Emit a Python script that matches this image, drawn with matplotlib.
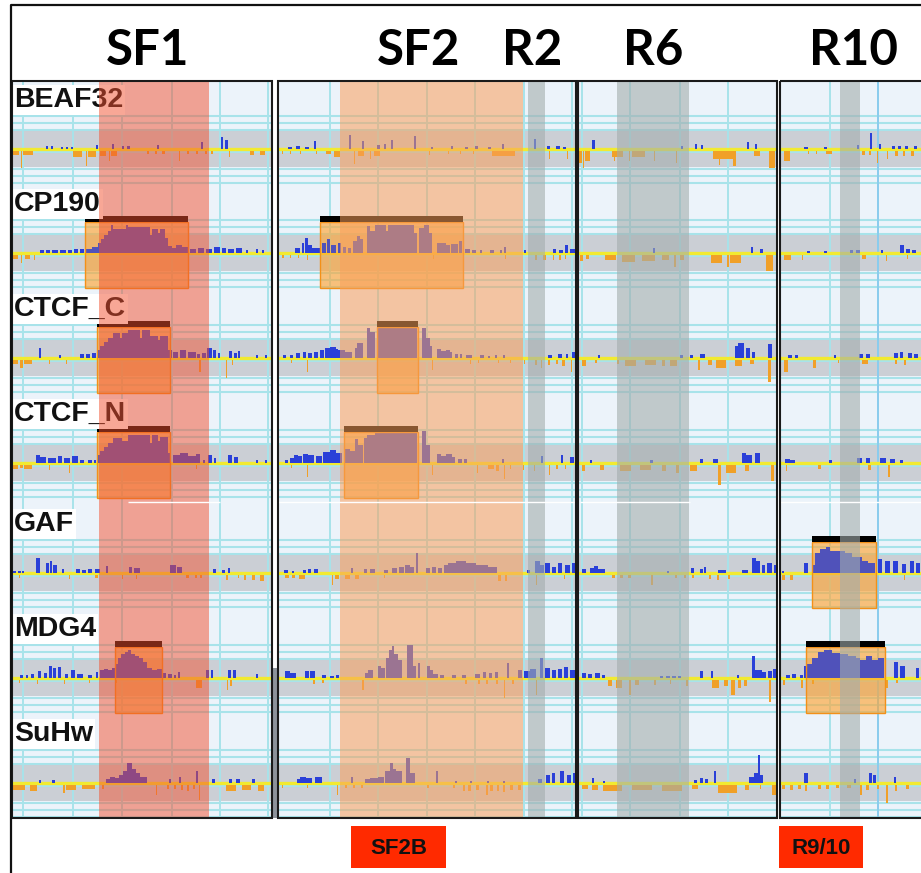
import matplotlib

matplotlib.use("Agg")
import matplotlib.pyplot as plt
from matplotlib.patches import Rectangle

# ---- layout of the browser snapshot (x = genomic position in screen units) ----
TRACKS = ["BEAF32", "CP190", "CTCF_C", "CTCF_N", "GAF", "MDG4", "SuHw"]
BASELINES = [149, 253, 358, 463, 573, 678, 783]
PANELS = [(12, 272), (278, 576), (578, 777), (780, 930)]
PANEL_TOP, PANEL_BOTTOM = 81, 818
VGRID = [23, 73, 122, 172, 220, 268, 330, 378, 427, 475, 524, 572,
         582, 630, 680, 728, 830, 878]

TITLES = ["SF1", "SF2", "R2", "R6", "R10"]
TITLE_X = [148, 419, 532, 653, 853]

# highlighted regions: (x0, x1, kind)
REGIONS = [(99, 209, "SF"), (340, 523, "SF2"), (528, 545, "R"),
           (617, 689, "R"), (840, 860, "R")]

# called peaks: (track, x0, x1)
PEAK_BOXES = [("CP190", 85, 188), ("CP190", 320, 463),
              ("CTCF_C", 97, 170), ("CTCF_C", 377, 418),
              ("CTCF_N", 97, 170), ("CTCF_N", 344, 418),
              ("GAF", 812, 876), ("MDG4", 115, 162), ("MDG4", 806, 885)]

BOTTOM_TAGS = ["SF2B", "R9/10"]
BOTTOM_TAG_X = [(351, 446), (779, 863)]

# ---- signal: (x0, x1, height) blocks, above (UP) and below (DN) the baseline ----
BEAF32_UP = [
    (46, 48, 3), (51, 53, 3), (61, 63, 2), (66, 68, 2), (71, 73, 2), (96, 98, 4), (112, 114, 5),
    (122, 124, 3), (127, 130, 3), (157, 159, 4), (201, 203, 7), (221, 223, 12), (225, 228, 9),
    (288, 292, 2), (296, 300, 3), (305, 309, 2), (314, 316, 8), (349, 351, 14), (362, 364, 8),
    (377, 380, 4), (384, 386, 5), (391, 393, 9), (414, 416, 13), (431, 433, 2), (451, 453, 3),
    (465, 468, 2), (475, 478, 3), (488, 491, 2), (502, 504, 5), (534, 536, 10), (547, 550, 3),
    (556, 560, 3), (563, 566, 2),
    (592, 595, 9), (681, 683, 3), (695, 697, 5), (701, 703, 4), (747, 749, 7), (755, 757, 5),
    (804, 808, 2), (824, 827, 2), (857, 859, 4), (870, 872, 16), (879, 881, 5), (892, 895, 3),
    (898, 901, 3), (905, 908, 3), (914, 917, 3)]
BEAF32_DN = [
    (13, 21, 4), (21, 23, 17), (23, 37, 4), (73, 86, 6), (86, 88, 15), (88, 100, 6), (100, 109, 5),
    (109, 111, 10), (111, 120, 5), (147, 150, 3), (155, 158, 3), (162, 166, 3), (179, 181, 10),
    (187, 190, 3), (196, 199, 3), (205, 208, 3), (211, 214, 3), (229, 231, 6), (250, 256, 4),
    (260, 267, 4),
    (282, 284, 3), (290, 292, 3), (300, 302, 3), (316, 318, 3), (326, 333, 3), (334, 342, 6),
    (354, 356, 13), (358, 366, 5), (370, 372, 8), (374, 382, 5), (429, 431, 4), (448, 450, 3),
    (460, 462, 3), (473, 475, 3), (492, 525, 5), (549, 551, 8), (567, 569, 8),
    (579, 583, 12), (583, 585, 17), (585, 592, 10), (612, 627, 6), (614, 616, 10), (629, 631, 10),
    (632, 650, 6), (654, 656, 10), (676, 678, 12), (713, 745, 8), (719, 721, 14), (733, 737, 15),
    (754, 762, 5), (769, 777, 17),
    (784, 792, 10), (808, 810, 3), (816, 818, 3), (826, 834, 3), (862, 866, 4), (869, 872, 4),
    (877, 879, 12), (887, 889, 8), (895, 899, 5), (903, 906, 5), (911, 915, 5)]

CP190_UP = [
    (40, 44, 3), (46, 50, 3), (52, 58, 3), (60, 66, 3), (68, 72, 3), (74, 78, 4), (80, 84, 4),
    (85, 92, 4), (92, 98, 6), (98, 101, 10), (101, 104, 14), (104, 108, 18), (108, 111, 22),
    (111, 113, 28), (113, 126, 24), (126, 128, 28), (128, 150, 26), (150, 152, 18), (152, 158, 24),
    (158, 160, 20), (160, 165, 24), (165, 168, 15), (168, 172, 7), (172, 176, 5), (176, 182, 8),
    (182, 188, 6), (190, 196, 4), (198, 204, 5), (206, 212, 4), (214, 220, 6), (222, 226, 5),
    (228, 234, 4), (236, 242, 5), (246, 248, 3), (256, 258, 4), (262, 264, 3),
    (295, 300, 5), (302, 304, 10), (305, 308, 15), (308, 312, 8), (312, 320, 5), (322, 326, 10),
    (327, 330, 14), (331, 336, 8), (338, 341, 10), (343, 346, 6), (348, 351, 5), (353, 357, 12),
    (357, 360, 17), (360, 363, 14), (367, 370, 27), (370, 375, 22), (375, 386, 28), (386, 388, 22),
    (388, 414, 28), (414, 417, 20), (419, 424, 25), (424, 429, 28), (429, 432, 20), (437, 446, 10),
    (446, 450, 8), (451, 458, 9), (459, 462, 12), (465, 470, 4), (472, 476, 3), (480, 482, 3),
    (490, 494, 3), (500, 502, 3), (504, 506, 6), (524, 526, 3), (553, 556, 4), (559, 563, 3),
    (565, 568, 8), (570, 575, 4),
    (653, 655, 5), (751, 753, 6), (760, 763, 4),
    (807, 810, 2), (824, 827, 2), (850, 853, 3), (856, 860, 3), (881, 883, 3), (900, 904, 8),
    (906, 910, 4), (912, 916, 3)]
CP190_DN = [
    (13, 20, 4), (21, 23, 8), (25, 32, 4), (34, 36, 5),
    (282, 285, 3), (290, 292, 3), (298, 300, 3), (307, 309, 5), (433, 435, 4), (505, 507, 4),
    (535, 538, 5), (543, 547, 5), (553, 555, 5), (559, 562, 5), (565, 567, 4),
    (580, 584, 6), (586, 590, 4), (605, 620, 5), (622, 640, 7), (642, 660, 6), (662, 672, 5),
    (674, 677, 12), (680, 685, 5), (711, 727, 8), (727, 730, 12), (730, 745, 8), (766, 776, 16),
    (784, 794, 5), (802, 804, 5), (862, 868, 4), (886, 888, 6), (907, 909, 4)]

CTCF_C_UP = [
    (39, 41, 10), (59, 61, 3), (80, 84, 4), (86, 90, 4), (92, 96, 5),
    (97, 100, 8), (100, 104, 12), (104, 108, 16), (108, 113, 20), (113, 120, 25), (120, 122, 20),
    (122, 128, 25), (128, 140, 28), (140, 142, 20), (142, 150, 28), (150, 152, 22), (152, 158, 22),
    (158, 160, 18), (160, 168, 22), (168, 172, 8), (173, 178, 6), (180, 186, 8), (188, 196, 6),
    (197, 200, 4), (202, 206, 5), (207, 212, 10), (213, 216, 8), (218, 220, 5), (229, 232, 7),
    (234, 237, 5), (238, 240, 7), (256, 258, 3), (265, 267, 3),
    (283, 286, 3), (290, 293, 3), (296, 300, 5), (303, 306, 6), (308, 312, 5), (314, 318, 6),
    (320, 324, 8), (325, 330, 10), (330, 336, 11), (336, 338, 9), (338, 345, 8), (345, 352, 6),
    (355, 357, 10), (357, 363, 15), (367, 370, 30), (370, 375, 26), (377, 417, 30), (422, 426, 30),
    (426, 430, 20), (430, 432, 12), (437, 441, 9), (441, 446, 7), (446, 450, 8), (450, 452, 6),
    (455, 458, 4), (460, 462, 4), (466, 472, 3), (480, 484, 3), (488, 490, 2), (495, 497, 3),
    (503, 505, 3), (548, 552, 3), (558, 562, 4), (566, 568, 4), (572, 576, 6),
    (598, 600, 3), (680, 683, 3), (690, 693, 3), (700, 705, 4), (735, 738, 12), (738, 744, 15),
    (746, 750, 10), (752, 755, 6), (768, 772, 14),
    (788, 792, 3), (795, 798, 3), (834, 836, 3), (859, 863, 4), (866, 870, 4), (894, 898, 5),
    (900, 903, 6), (908, 912, 5), (914, 918, 4)]
CTCF_C_DN = [
    (13, 20, 4), (20, 24, 8), (24, 36, 4), (49, 51, 4), (66, 68, 4), (199, 202, 12), (226, 228, 18),
    (232, 234, 5),
    (291, 293, 3), (307, 309, 12), (432, 434, 10), (470, 472, 4), (478, 480, 3), (498, 500, 3),
    (510, 512, 3), (524, 526, 4), (535, 538, 5), (541, 543, 8), (548, 551, 5), (556, 559, 4),
    (562, 566, 6), (571, 573, 12),
    (582, 588, 6), (595, 598, 3), (617, 620, 4), (625, 640, 6), (645, 660, 5), (662, 666, 6),
    (670, 680, 6), (698, 701, 10), (708, 714, 5), (716, 730, 8), (735, 745, 6), (750, 755, 4),
    (768, 772, 22),
    (784, 790, 12), (813, 817, 8), (838, 840, 3), (862, 870, 4), (895, 898, 4), (904, 907, 5)]

CTCF_N_UP = [
    (36, 40, 8), (40, 46, 6), (48, 56, 5), (58, 62, 7), (64, 70, 5), (72, 78, 7), (80, 84, 3),
    (88, 92, 3), (94, 96, 3),
    (97, 100, 8), (100, 104, 12), (104, 108, 16), (108, 113, 20), (113, 122, 25), (122, 128, 22),
    (128, 150, 28), (150, 152, 20), (152, 158, 28), (158, 160, 22), (160, 168, 26), (168, 170, 10),
    (173, 180, 8), (180, 188, 10), (188, 196, 7), (196, 200, 9), (203, 205, 3), (208, 212, 8),
    (214, 216, 5), (228, 232, 8), (234, 238, 6), (256, 258, 3), (265, 267, 3),
    (285, 288, 3), (290, 294, 5), (294, 298, 8), (298, 302, 7), (303, 308, 9), (308, 314, 8),
    (316, 322, 7), (323, 330, 11), (330, 336, 13), (336, 342, 10), (345, 350, 14), (350, 355, 12),
    (355, 358, 24), (358, 363, 18), (364, 367, 25), (367, 375, 28), (375, 417, 30), (422, 426, 32),
    (426, 430, 18), (437, 441, 9), (441, 446, 7), (446, 452, 9), (452, 455, 6), (458, 462, 4),
    (464, 467, 4), (502, 504, 4), (541, 543, 7), (561, 563, 8), (570, 574, 6),
    (590, 592, 3), (650, 653, 3), (700, 703, 4), (713, 718, 4), (742, 746, 10), (746, 752, 8),
    (755, 760, 10),
    (785, 790, 4), (790, 795, 3), (829, 832, 3), (857, 862, 5), (866, 870, 5), (880, 886, 5),
    (890, 895, 4), (900, 903, 3)]
CTCF_N_DN = [
    (13, 20, 4), (20, 24, 3), (24, 36, 4), (49, 51, 5), (69, 71, 8), (196, 198, 4),
    (291, 293, 3), (307, 309, 12), (432, 434, 10), (477, 479, 8), (488, 496, 4), (496, 500, 6),
    (504, 506, 14), (510, 512, 4), (523, 525, 5), (534, 536, 6), (549, 551, 10), (556, 559, 4),
    (565, 567, 4),
    (582, 586, 6), (600, 606, 5), (620, 635, 6), (640, 655, 5), (662, 668, 6), (676, 680, 8),
    (690, 700, 6), (718, 722, 20), (726, 740, 8), (745, 750, 6), (771, 775, 16),
    (786, 788, 6), (818, 822, 4), (868, 872, 5), (888, 891, 12)]

GAF_UP = [
    (13, 16, 2), (18, 21, 2), (22, 24, 2), (36, 40, 15), (46, 49, 10), (50, 52, 12), (53, 57, 8),
    (62, 64, 4), (76, 80, 4), (82, 86, 3), (88, 92, 4), (95, 100, 4), (106, 108, 7), (129, 132, 6),
    (134, 140, 5), (170, 176, 8), (177, 182, 6), (213, 216, 4), (222, 225, 3), (228, 230, 5),
    (284, 288, 3), (292, 294, 2), (303, 306, 3), (308, 311, 4), (314, 318, 4), (351, 353, 5),
    (364, 367, 4), (370, 375, 4), (384, 388, 3), (392, 397, 5), (399, 404, 6), (405, 410, 8),
    (410, 414, 6), (416, 418, 20), (426, 430, 5), (432, 436, 6), (438, 442, 5), (444, 448, 8),
    (448, 456, 10), (456, 466, 12), (466, 476, 10), (476, 488, 8), (488, 497, 6), (527, 530, 3),
    (535, 540, 12), (540, 544, 8), (545, 550, 10), (552, 556, 6), (558, 562, 10), (565, 570, 8),
    (572, 576, 10),
    (582, 586, 4), (590, 594, 5), (594, 598, 7), (598, 605, 4), (667, 669, 2), (691, 694, 5),
    (700, 703, 4), (704, 706, 6), (718, 726, 3), (742, 748, 3), (752, 756, 15), (756, 760, 12),
    (762, 765, 8), (767, 772, 10), (774, 778, 8),
    (782, 784, 2), (804, 808, 10), (812, 815, 8), (815, 820, 20), (820, 826, 24), (826, 830, 26),
    (830, 838, 22), (838, 845, 22), (845, 852, 20), (852, 862, 16), (862, 868, 12), (868, 875, 10),
    (878, 882, 14), (885, 890, 12), (893, 898, 12), (902, 906, 9), (910, 914, 12), (916, 920, 10)]
GAF_DN = [
    (19, 21, 3), (69, 71, 4), (95, 99, 3), (122, 124, 4), (136, 138, 4), (186, 190, 3),
    (195, 198, 3), (200, 203, 3), (226, 229, 5), (238, 240, 3), (244, 247, 5), (252, 256, 5),
    (260, 266, 6),
    (285, 290, 3), (292, 296, 3), (299, 308, 4), (332, 334, 10), (335, 340, 4), (345, 352, 4),
    (355, 360, 4), (384, 386, 3), (498, 502, 6), (505, 508, 6), (536, 538, 10), (564, 566, 4),
    (612, 616, 3), (620, 624, 3), (628, 632, 3), (651, 654, 10), (675, 678, 3), (684, 687, 3),
    (692, 695, 3), (709, 712, 4), (717, 720, 5), (728, 731, 4),
    (782, 786, 5), (790, 794, 5), (904, 906, 5)]

MDG4_UP = [
    (20, 23, 3), (26, 28, 3), (31, 34, 4), (38, 41, 7), (44, 47, 5), (49, 52, 12), (53, 56, 10),
    (58, 61, 11), (65, 68, 4), (71, 75, 8), (77, 83, 4), (88, 92, 3), (96, 98, 6), (100, 104, 8),
    (104, 108, 9), (108, 112, 8), (112, 115, 10),
    (115, 118, 14), (118, 121, 20), (121, 125, 24), (125, 128, 26), (128, 131, 28), (131, 135, 24),
    (135, 139, 22), (139, 143, 20), (143, 147, 16), (147, 152, 10), (152, 157, 8), (157, 162, 9),
    (162, 166, 5), (168, 172, 4), (174, 176, 3), (178, 180, 6), (206, 209, 8), (211, 213, 8),
    (228, 231, 8), (233, 236, 8), (256, 258, 4),
    (285, 290, 7), (290, 296, 5), (305, 309, 7), (310, 315, 7), (322, 326, 3), (330, 334, 2),
    (336, 339, 3), (365, 368, 5), (368, 373, 8), (378, 381, 12), (381, 385, 10), (386, 389, 20),
    (389, 392, 28), (392, 394, 32), (394, 398, 24), (398, 402, 18), (407, 413, 33), (413, 416, 12),
    (418, 420, 15), (427, 430, 12), (430, 433, 8), (433, 438, 4), (440, 444, 3), (452, 456, 3),
    (462, 466, 3), (475, 480, 4), (483, 486, 6), (489, 492, 5), (495, 498, 6), (507, 509, 15),
    (518, 522, 8), (524, 530, 7), (530, 536, 9), (540, 543, 20), (545, 550, 10), (552, 556, 8),
    (558, 562, 9), (564, 568, 11), (570, 575, 8),
    (582, 586, 5), (588, 592, 4), (595, 600, 5), (602, 605, 3), (660, 663, 2), (666, 670, 2),
    (672, 676, 2), (678, 681, 2), (700, 703, 7), (711, 713, 7), (737, 739, 3), (752, 755, 22),
    (755, 762, 8), (762, 766, 6), (768, 772, 7), (773, 776, 9),
    (786, 790, 3), (792, 796, 4), (800, 803, 3), (804, 807, 12), (807, 812, 14), (812, 818, 20),
    (818, 824, 26), (824, 832, 28), (832, 840, 25), (840, 848, 24), (848, 856, 22), (856, 860, 20),
    (860, 866, 18), (866, 872, 22), (872, 878, 18), (878, 884, 20), (894, 898, 16), (900, 905, 12),
    (916, 919, 10)]
MDG4_DN = [
    (19, 21, 3), (37, 39, 4), (64, 66, 4), (89, 91, 3), (116, 118, 3), (196, 204, 8),
    (227, 229, 10), (230, 233, 6),
    (313, 316, 4), (322, 325, 3), (362, 365, 10), (465, 468, 4), (478, 481, 4), (486, 489, 4),
    (496, 499, 4), (504, 506, 18), (512, 515, 4), (536, 538, 15),
    (608, 614, 6), (616, 625, 8), (629, 632, 15), (635, 640, 5), (654, 657, 5), (670, 672, 4),
    (686, 689, 6), (712, 722, 8), (724, 730, 6), (731, 736, 15), (738, 742, 8), (744, 748, 6),
    (769, 772, 22),
    (783, 786, 5), (801, 804, 8), (812, 815, 4), (886, 889, 8), (896, 899, 3)]

SUHW_UP = [
    (39, 41, 3), (52, 55, 3), (106, 110, 4), (110, 115, 6), (115, 119, 5), (119, 123, 8),
    (123, 127, 12), (127, 132, 20), (132, 136, 14), (136, 140, 10), (140, 147, 6), (169, 171, 4),
    (179, 181, 6), (196, 198, 12), (212, 215, 4), (229, 232, 4), (236, 240, 4), (252, 255, 4),
    (297, 300, 4), (300, 306, 6), (306, 312, 5), (315, 322, 6), (351, 353, 6), (365, 370, 4),
    (370, 378, 5), (378, 384, 6), (385, 390, 12), (390, 393, 20), (393, 396, 14), (396, 402, 12),
    (406, 410, 25), (410, 415, 10), (436, 438, 12), (455, 457, 2), (470, 472, 2), (487, 489, 2),
    (503, 505, 2), (538, 542, 4), (546, 550, 8), (552, 555, 10), (560, 564, 12), (567, 571, 8),
    (573, 576, 10),
    (592, 594, 5), (603, 605, 2), (694, 697, 3), (700, 703, 5), (705, 708, 4), (714, 716, 12),
    (749, 754, 6), (754, 758, 10), (758, 760, 28), (760, 763, 8),
    (804, 808, 10), (854, 856, 4), (869, 872, 10), (873, 876, 8), (894, 896, 6)]
SUHW_DN = [
    (13, 30, 5), (30, 40, 6), (63, 66, 8), (66, 80, 5), (82, 100, 4), (102, 105, 4), (156, 158, 10),
    (167, 170, 4), (174, 177, 4), (181, 184, 5), (187, 190, 6), (193, 196, 4), (199, 201, 15),
    (226, 240, 6), (242, 255, 5), (258, 267, 6),
    (282, 284, 3), (307, 309, 3), (337, 339, 10), (345, 348, 3), (353, 356, 3), (361, 364, 3),
    (427, 430, 3), (453, 456, 3), (463, 466, 6), (468, 472, 6), (476, 480, 5), (486, 489, 10),
    (490, 494, 6), (497, 500, 6), (503, 506, 7), (510, 514, 5), (518, 522, 5),
    (582, 590, 4), (592, 600, 5), (603, 630, 6), (632, 660, 5), (662, 690, 6), (692, 700, 4),
    (718, 745, 8), (745, 750, 5), (760, 762, 4), (772, 778, 10),
    (782, 786, 4), (790, 794, 5), (798, 802, 4), (805, 808, 6), (818, 822, 4), (826, 830, 4),
    (836, 840, 3), (847, 852, 3), (860, 863, 10), (866, 870, 5), (877, 880, 4), (886, 889, 18),
    (895, 898, 6), (906, 910, 4)]

SIGNAL_UP = [BEAF32_UP, CP190_UP, CTCF_C_UP, CTCF_N_UP, GAF_UP, MDG4_UP, SUHW_UP]
SIGNAL_DN = [BEAF32_DN, CP190_DN, CTCF_C_DN, CTCF_N_DN, GAF_DN, MDG4_DN, SUHW_DN]

# ---- colours ----
BG = "#ecf3fa"
GRID = "#a8e3ea"
BAND = "#cbcfd5"
YELLOW = "#f2ea30"
BLUE = "#2a40d8"
ORANGE = "#f0a028"
BOX_FILL = "#ffa432"
REGION_COLORS = {"SF": ("#f2502f", 0.5), "SF2": ("#fa9f5a", 0.55), "R": ("#a3adad", 0.6)}
TAG_RED = "#ff2a00"


def main() -> None:
    fig = plt.figure(figsize=(9.21, 8.73), dpi=100)
    fig.patch.set_facecolor("white")
    ax = fig.add_axes([0, 0, 1, 1])
    ax.set_xlim(0, 921)
    ax.set_ylim(873, 0)
    ax.axis("off")

    # outer frame
    ax.plot([11, 11, 925], [873, 5, 5], color="#111", lw=1.6, zorder=10,
            solid_capstyle="butt")

    for x0, x1 in PANELS:
        ax.add_patch(Rectangle((x0, PANEL_TOP), x1 - x0, PANEL_BOTTOM - PANEL_TOP,
                               facecolor=BG, edgecolor="none", zorder=0))
        for b in BASELINES:
            ax.add_patch(Rectangle((x0, b - 18), x1 - x0, 17, facecolor=BAND,
                                   edgecolor="none", zorder=1))
            ax.add_patch(Rectangle((x0, b + 4), x1 - x0, 14, facecolor=BAND,
                                   edgecolor="none", zorder=1))
            ax.hlines([b - 33, b - 26, b - 19, b + 3, b + 20, b + 27, b + 34],
                      x0, x1, color=GRID, lw=1.5, zorder=2)
            ax.hlines(b, x0, x1, color=YELLOW, lw=2.4, zorder=3)

    ax.vlines(VGRID, PANEL_TOP, PANEL_BOTTOM, color=GRID, lw=1.4, zorder=2)
    ax.vlines([878], PANEL_TOP, PANEL_BOTTOM, color="#86c8ee", lw=1.2, zorder=2)

    # peak call boxes (fill sits under the signal)
    base_of = dict(zip(TRACKS, BASELINES))
    for name, x0, x1 in PEAK_BOXES:
        b = base_of[name]
        ax.add_patch(Rectangle((x0, b - 31), x1 - x0, 66, facecolor=BOX_FILL,
                               alpha=0.55, edgecolor="none", zorder=3.5))

    # signal bars
    for b, ups, dns in zip(BASELINES, SIGNAL_UP, SIGNAL_DN):
        ax.bar([u[0] for u in ups], [-u[2] for u in ups], width=[u[1] - u[0] for u in ups],
               bottom=b, align="edge", color=BLUE, linewidth=0, zorder=4)
        ax.bar([d[0] for d in dns], [d[2] for d in dns],
               width=[max(1.2, 0.7 * (d[1] - d[0])) for d in dns],
               bottom=b + 1.5, align="edge", color=ORANGE, linewidth=0, zorder=4)

    # light tint and outline of the peak boxes over the signal, plus the black call bar
    for name, x0, x1 in PEAK_BOXES:
        b = base_of[name]
        ax.add_patch(Rectangle((x0, b - 31), x1 - x0, 66, facecolor=BOX_FILL,
                               alpha=0.18, edgecolor="none", zorder=5))
        ax.add_patch(Rectangle((x0, b - 31), x1 - x0, 66, facecolor="none",
                               edgecolor="#f39018", lw=1.0, zorder=5.1))
        ax.add_patch(Rectangle((x0, b - 37), x1 - x0, 6, facecolor="black",
                               edgecolor="none", zorder=5.2))

    # track labels
    for name, b in zip(TRACKS, BASELINES):
        ax.text(14, b - 42, name, fontsize=20.5, fontweight="bold",
                family=["Liberation Sans", "DejaVu Sans"], color="#111",
                ha="left", va="baseline", zorder=5.5,
                bbox=dict(facecolor="white", edgecolor="none", pad=1.5))

    # highlighted regions
    for x0, x1, kind in REGIONS:
        col, a = REGION_COLORS[kind]
        ax.add_patch(Rectangle((x0, PANEL_TOP), x1 - x0, PANEL_BOTTOM - PANEL_TOP,
                               facecolor=col, alpha=a, edgecolor="none", zorder=6))

    # splice artefacts from the original screenshot montage
    ax.hlines([502, 502, 502, 502], [128, 278, 580, 780], [220, 576, 690, 921],
              color="white", lw=1.0, zorder=6.5)
    ax.add_patch(Rectangle((272, 668), 6, PANEL_BOTTOM - 668, facecolor="#8d939b",
                           edgecolor="none", zorder=6.5))

    # panel frames
    for x0, x1 in PANELS:
        ax.add_patch(Rectangle((x0, PANEL_TOP), x1 - x0, PANEL_BOTTOM - PANEL_TOP,
                               facecolor="none", edgecolor="#1a1a1a", lw=1.5, zorder=7))

    # region titles
    for t, x in zip(TITLES, TITLE_X):
        ax.text(x, 65, t, fontsize=35.5, fontweight="bold", family=["Lato", "DejaVu Sans"],
                ha="center", va="baseline", color="black", zorder=8)

    # bottom tags
    for t, (x0, x1) in zip(BOTTOM_TAGS, BOTTOM_TAG_X):
        ax.add_patch(Rectangle((x0, 826), x1 - x0, 42, facecolor=TAG_RED,
                               edgecolor="none", zorder=8))
        ax.text((x0 + x1) / 2, 848, t, fontsize=16, fontweight="bold",
                family=["Liberation Sans", "DejaVu Sans"], ha="center", va="center",
                color="#111", zorder=9)

    fig.savefig("out.png", dpi=100, facecolor="white")
    plt.close(fig)


if __name__ == "__main__":
    main()
